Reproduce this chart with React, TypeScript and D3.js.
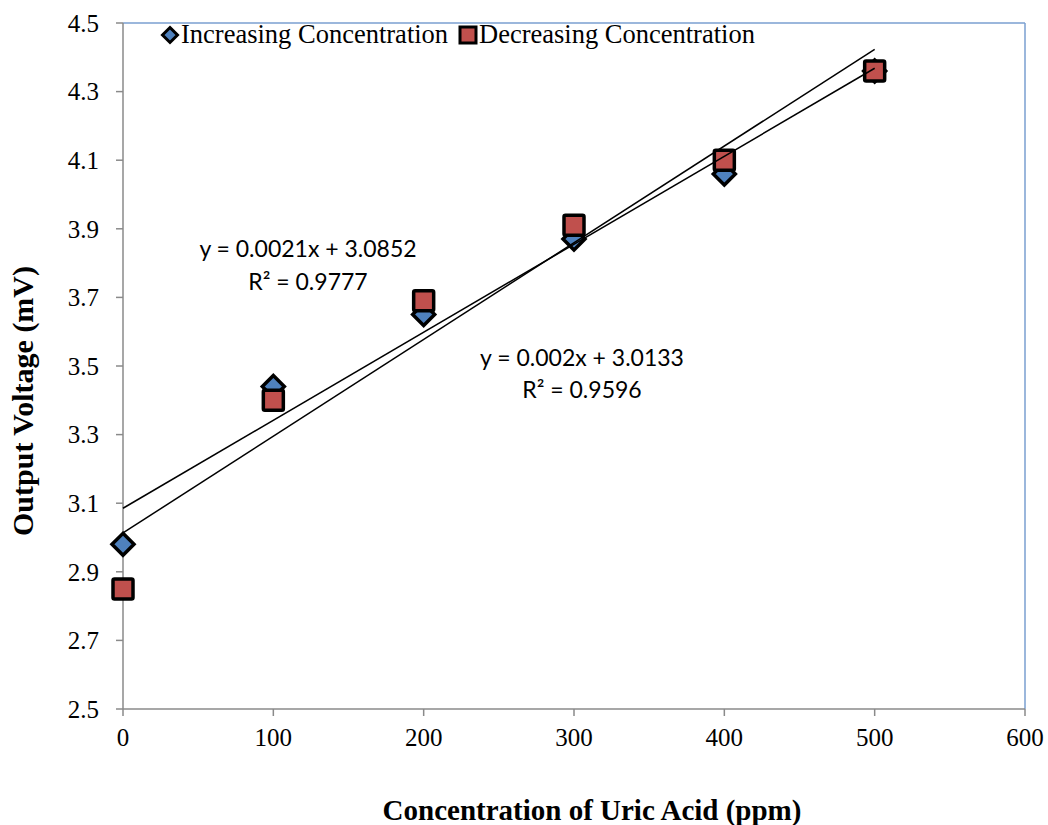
import * as d3 from "d3";

const concentrations = [0, 100, 200, 300, 400, 500];
const increasing = [2.98, 3.44, 3.65, 3.87, 4.06, 4.36];
const decreasing = [2.85, 3.4, 3.69, 3.91, 4.1, 4.36];
const yTicks = [2.5, 2.7, 2.9, 3.1, 3.3, 3.5, 3.7, 3.9, 4.1, 4.3, 4.5];
const xTicks = [0, 100, 200, 300, 400, 500, 600];
const eqIncreasing = ["y = 0.0021x + 3.0852", "R² = 0.9777"];
const eqDecreasing = ["y = 0.002x + 3.0133", "R² = 0.9596"];

const W = 1048, H = 825;
const m = { left: 123, right: 1025, top: 23, bottom: 709 };

// least squares fit, like excel's linear trendline
function fit(xs: number[], ys: number[]) {
  const mx = d3.mean(xs)!, my = d3.mean(ys)!;
  const sxy = d3.sum(xs, (x, i) => (x - mx) * (ys[i] - my));
  const sxx = d3.sum(xs, (x) => (x - mx) * (x - mx));
  const b = sxy / sxx;
  return { b, a: my - b * mx };
}

const serif = "'Liberation Serif', 'Times New Roman', serif";
const sans = "Lato, 'Open Sans', sans-serif";

export default function App() {
  const x = d3.scaleLinear().domain([0, 600]).range([m.left, m.right]);
  const y = d3.scaleLinear().domain([2.5, 4.5]).range([m.bottom, m.top]);

  const fits = [fit(concentrations, increasing), fit(concentrations, decreasing)];
  const xExt = d3.extent(concentrations) as [number, number];

  const diamond = (cx: number, cy: number, r: number) =>
    `M${cx},${cy - r}L${cx + r},${cy}L${cx},${cy + r}L${cx - r},${cy}Z`;

  return (
    <svg width={W} height={H} style={{ position: "absolute", left: 0, top: 0, background: "#fff" }}>
      {/* frame */}
      <line x1={m.left} x2={m.right} y1={m.top} y2={m.top} stroke="#7a9fd0" strokeWidth={1.5} />
      <line x1={m.right} x2={m.right} y1={m.top} y2={m.bottom} stroke="#7a9fd0" strokeWidth={1.5} />
      <line x1={m.left} x2={m.left} y1={m.top} y2={m.bottom} stroke="#8a8a8a" strokeWidth={1.5} />
      <line x1={m.left} x2={m.right} y1={m.bottom} y2={m.bottom} stroke="#8a8a8a" strokeWidth={1.5} />

      {yTicks.map((t) => (
        <g key={"y" + t}>
          <line x1={m.left - 7} x2={m.left} y1={y(t)} y2={y(t)} stroke="#8a8a8a" strokeWidth={1.5} />
          <text x={m.left - 24} y={y(t)} dy="0.35em" textAnchor="end" fontFamily={serif} fontSize={25}>
            {t.toFixed(1)}
          </text>
        </g>
      ))}
      {xTicks.map((t) => (
        <g key={"x" + t}>
          <line x1={x(t)} x2={x(t)} y1={m.bottom} y2={m.bottom + 7} stroke="#8a8a8a" strokeWidth={1.5} />
          <text x={x(t)} y={m.bottom + 37} textAnchor="middle" fontFamily={serif} fontSize={25}>
            {t}
          </text>
        </g>
      ))}

      {/* markers */}
      {concentrations.map((c, i) => (
        <path key={"i" + i} d={diamond(x(c), y(increasing[i]), 11)} fill="#4f81bd" stroke="#000" strokeWidth={3.5} />
      ))}
      {concentrations.map((c, i) => (
        <rect key={"d" + i} x={x(c) - 10} y={y(decreasing[i]) - 10} width={20} height={20} rx={1.5} fill="#c0504d" stroke="#000" strokeWidth={3.5} />
      ))}

      {/* trendlines */}
      {fits.map((f, i) => (
        <path
          key={"f" + i}
          d={d3.line<number>().x((d) => x(d)).y((d) => y(f.a + f.b * d))(xExt) || ""}
          fill="none"
          stroke="#000"
          strokeWidth={1.5}
        />
      ))}

      {/* equations */}
      <text textAnchor="middle" fontFamily={sans} fontSize={23}>
        <tspan x={308} y={257}>{eqIncreasing[0]}</tspan>
        <tspan x={308} y={290}>{eqIncreasing[1]}</tspan>
      </text>
      <text textAnchor="middle" fontFamily={sans} fontSize={23}>
        <tspan x={582} y={366}>{eqDecreasing[0]}</tspan>
        <tspan x={582} y={398}>{eqDecreasing[1]}</tspan>
      </text>

      {/* legend */}
      <path d={diamond(170, 35, 7.5)} fill="#4f81bd" stroke="#000" strokeWidth={3} />
      <text x={181} y={43} fontFamily={serif} fontSize={26.5}>Increasing Concentration</text>
      <rect x={460} y={27} width={16} height={16} fill="#c0504d" stroke="#000" strokeWidth={3} />
      <text x={479} y={43} fontFamily={serif} fontSize={26.5}>Decreasing Concentration</text>

      {/* axis titles */}
      <text
        transform={`translate(33,${(m.top + m.bottom) / 2 + 35}) rotate(-90)`}
        textAnchor="middle"
        fontFamily={serif}
        fontWeight="bold"
        fontSize={30}
      >
        Output Voltage (mV)
      </text>
      <text x={592} y={820} textAnchor="middle" fontFamily={serif} fontWeight="bold" fontSize={29}>
        Concentration of Uric Acid (ppm)
      </text>
    </svg>
  );
}
